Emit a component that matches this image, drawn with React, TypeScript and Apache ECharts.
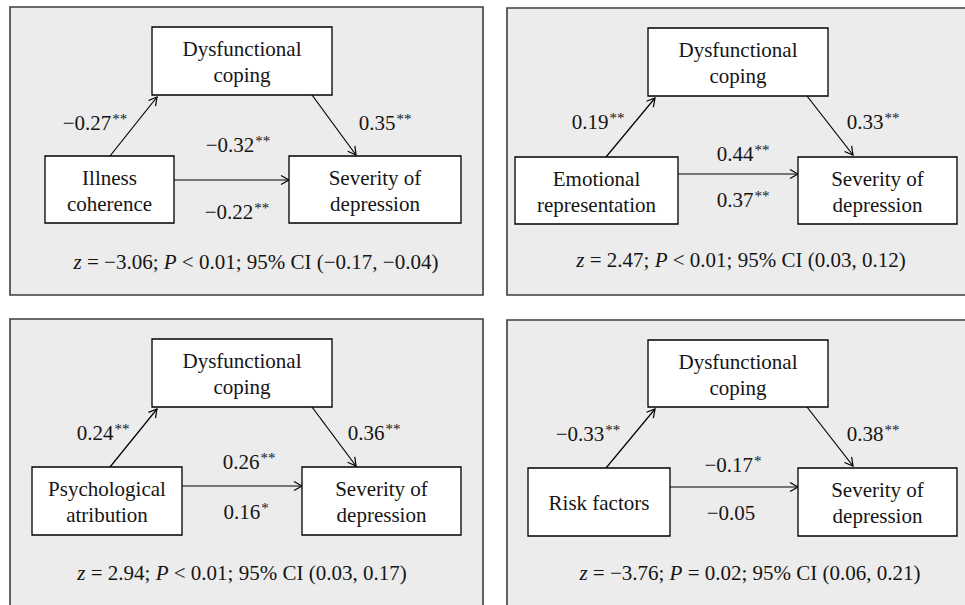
import React, { useEffect, useRef } from 'react';
import * as echarts from 'echarts';

// ---- Data ----
const predictorNames = ['Illness\ncoherence', 'Emotional\nrepresentation', 'Psychological\natribution', 'Risk factors'];
const mediatorName = 'Dysfunctional\ncoping';
const outcomeName = 'Severity of\ndepression';
const aValues = [-0.27, 0.19, 0.24, -0.33];
const aSig = ['**', '**', '**', '**'];
const bValues = [0.35, 0.33, 0.36, 0.38];
const bSig = ['**', '**', '**', '**'];
const totalValues = [-0.32, 0.44, 0.26, -0.17];
const totalSig = ['**', '**', '**', '*'];
const directValues = [-0.22, 0.37, 0.16, -0.05];
const directSig = ['**', '**', '*', ''];
const zValues = [-3.06, 2.47, 2.94, -3.76];
const pRelations = ['<', '<', '<', '='];
const pValues = [0.01, 0.01, 0.01, 0.02];
const ciLower = [-0.17, 0.03, 0.03, 0.06];
const ciUpper = [-0.04, 0.12, 0.17, 0.21];

// ---- Layout (positions only) ----
type Rect = [number, number, number, number];
type Pt = [number, number];
interface PanelLayout {
  outer: Rect; med: Rect; pred: Rect; out: Rect;
  upFrom: Pt; upTo: Pt; downFrom: Pt; downTo: Pt;
  hy: number; aPos: Pt; bPos: Pt; cPos: Pt; dPos: Pt; footPos: Pt;
}
const layouts: PanelLayout[] = [
  {
    outer: [10, 7, 473, 288], med: [152, 27, 180, 68], pred: [45, 156, 129, 67], out: [289, 156, 172, 67],
    upFrom: [110, 156], upTo: [157, 97], downFrom: [312, 95], downTo: [356, 155], hy: 180,
    aPos: [95, 123], bPos: [385, 123], cPos: [238, 145], dPos: [237, 212], footPos: [256, 262],
  },
  {
    outer: [507, 8, 470, 287], med: [648, 28, 180, 68], pred: [515, 157, 163, 67], out: [798, 157, 159, 67],
    upFrom: [606, 157], upTo: [655, 98], downFrom: [807, 96], downTo: [853, 155], hy: 174,
    aPos: [598, 122], bPos: [873, 122], cPos: [743, 154], dPos: [743, 200], footPos: [741, 260],
  },
  {
    outer: [10, 319, 473, 300], med: [152, 339, 180, 68], pred: [32, 467, 150, 68], out: [302, 467, 159, 68],
    upFrom: [110, 467], upTo: [157, 409], downFrom: [312, 407], downTo: [356, 466], hy: 486,
    aPos: [103, 433], bPos: [374, 433], cPos: [249, 462], dPos: [246, 512], footPos: [242, 573],
  },
  {
    outer: [507, 320, 470, 300], med: [648, 340, 180, 67], pred: [528, 468, 142, 68], out: [798, 468, 159, 68],
    upFrom: [606, 468], upTo: [655, 409], downFrom: [807, 407], downTo: [853, 466], hy: 487,
    aPos: [588, 434], bPos: [873, 434], cPos: [733, 465], dPos: [731, 513], footPos: [750, 573],
  },
];

const FONT = '"Liberation Serif", "Times New Roman", serif';
const FS = 21;
const INK = '#151515';

const fmt = (v: number) => (v < 0 ? '\u2212' : '') + Math.abs(v).toFixed(2);
const coef = (v: number, s: string) => `{n|${fmt(v)}}` + (s ? `{s|${s}}` : '');

const rich = {
  n: { fontFamily: FONT, fontSize: FS, fill: INK, lineHeight: 24 },
  i: { fontFamily: FONT, fontSize: FS, fill: INK, fontStyle: 'italic', lineHeight: 24 },
  s: { fontFamily: FONT, fontSize: 15, fill: INK, verticalAlign: 'top', lineHeight: 24, padding: [0, 0, 0, 1] },
};

function arrow(from: Pt, to: Pt): any[] {
  const dx = to[0] - from[0];
  const dy = to[1] - from[1];
  const len = Math.hypot(dx, dy);
  const ux = dx / len, uy = dy / len;
  const L = 8, W = 4.5;
  const bx = to[0] - ux * L, by = to[1] - uy * L;
  const nx = -uy, ny = ux;
  const st = { stroke: '#000', lineWidth: 1.2, fill: 'none' };
  return [
    { type: 'line', shape: { x1: from[0], y1: from[1], x2: to[0], y2: to[1] }, style: st, silent: true },
    {
      type: 'polyline',
      shape: { points: [[bx + nx * W, by + ny * W], [to[0], to[1]], [bx - nx * W, by - ny * W]] },
      style: st, silent: true,
    },
  ];
}

function box(r: Rect, label: string): any[] {
  return [
    { type: 'rect', shape: { x: r[0], y: r[1], width: r[2], height: r[3] }, style: { fill: '#fff', stroke: '#000', lineWidth: 1.3 }, silent: true },
    {
      type: 'text', x: r[0] + r[2] / 2, y: r[1] + r[3] / 2 + 1, silent: true,
      style: { text: label, font: `${FS}px ${FONT}`, fill: INK, lineHeight: 26, align: 'center', verticalAlign: 'middle' },
    },
  ];
}

function richText(p: Pt, text: string): any {
  return {
    type: 'text', x: p[0], y: p[1], silent: true,
    style: { text, rich, align: 'center', verticalAlign: 'middle' },
  };
}

function buildGraphics(): any[] {
  const els: any[] = [];
  layouts.forEach((L, k) => {
    els.push({
      type: 'rect', shape: { x: L.outer[0], y: L.outer[1], width: L.outer[2], height: L.outer[3] },
      style: { fill: '#ececec', stroke: '#3c3c3c', lineWidth: 1.6 }, silent: true,
    });
    els.push(...arrow(L.upFrom, L.upTo));
    els.push(...arrow(L.downFrom, L.downTo));
    els.push(...arrow([L.pred[0] + L.pred[2], L.hy], [L.out[0], L.hy]));
    els.push(...box(L.med, mediatorName));
    els.push(...box(L.pred, predictorNames[k]));
    els.push(...box(L.out, outcomeName));
    els.push(richText(L.aPos, coef(aValues[k], aSig[k])));
    els.push(richText(L.bPos, coef(bValues[k], bSig[k])));
    els.push(richText(L.cPos, coef(totalValues[k], totalSig[k])));
    els.push(richText(L.dPos, coef(directValues[k], directSig[k])));
    const foot =
      `{i|z}{n| = ${fmt(zValues[k])}; }{i|P}{n| ${pRelations[k]} ${pValues[k].toFixed(2)}; 95% CI (${fmt(ciLower[k])}, ${fmt(ciUpper[k])})}`;
    els.push(richText(L.footPos, foot));
  });
  return els;
}

export default function App() {
  const ref = useRef<HTMLDivElement>(null);
  useEffect(() => {
    document.body.style.margin = '0';
    if (!ref.current) return;
    const chart = echarts.init(ref.current, undefined, { renderer: 'svg' });
    chart.setOption({
      animation: false,
      backgroundColor: '#ffffff',
      graphic: { elements: buildGraphics() },
    });
    return () => chart.dispose();
  }, []);
  return <div ref={ref} style={{ width: 965, height: 605 }} />;
}
